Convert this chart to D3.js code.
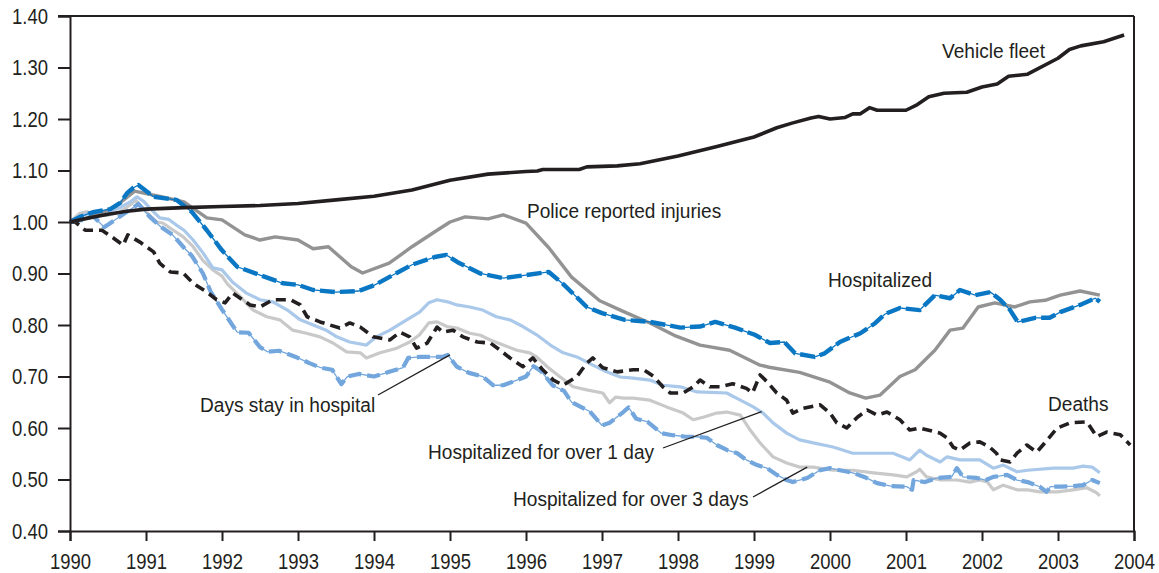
<!DOCTYPE html>
<html lang='en'>
    <head>
        <meta charset="utf-8">
        <title>Road injury indices 1990-2004</title>
        <script src='https://d3js.org/d3.v7.min.js'></script>
        <style>
            body { margin: 0; background: #fff; }
            text { font-family: "Liberation Sans", Arial, sans-serif; fill: #231f20; }
        </style>
    </head>
    <body>
        <script type='text/javascript'>
            var w = 1159;
            var h = 573;
            var margin = {top: 16, right: 25, bottom: 42, left: 70};

            var years = d3.range(1990, 2005);
            var yTicks = [0.4, 0.5, 0.6, 0.7, 0.8, 0.9, 1.0, 1.1, 1.2, 1.3, 1.4];

            // [year, index] pairs
            var vehicleFleet = [[1990,1.0],[1990.25,1.008],[1990.5,1.015],[1990.75,1.021],[1991,1.025],[1991.5,1.028],[1992,1.03],[1992.5,1.032],[1993,1.036],[1993.5,1.043],[1994,1.05],[1994.5,1.062],[1995,1.081],[1995.5,1.093],[1996,1.098],[1996.15,1.099],[1996.22,1.102],[1996.7,1.102],[1996.8,1.107],[1997.2,1.109],[1997.5,1.113],[1998,1.128],[1998.5,1.146],[1999,1.165],[1999.3,1.183],[1999.5,1.192],[1999.75,1.202],[1999.85,1.205],[2000,1.2],[2000.2,1.203],[2000.3,1.21],[2000.4,1.21],[2000.52,1.222],[2000.62,1.217],[2001,1.217],[2001.15,1.228],[2001.3,1.243],[2001.5,1.25],[2001.8,1.252],[2002,1.262],[2002.2,1.268],[2002.35,1.283],[2002.6,1.287],[2003,1.318],[2003.15,1.335],[2003.3,1.342],[2003.6,1.35],[2003.87,1.363]];

            var policeInjuries = [[1990,1.0],[1990.3,1.01],[1990.6,1.03],[1990.85,1.06],[1991.2,1.049],[1991.5,1.039],[1991.8,1.008],[1992,1.004],[1992.3,0.975],[1992.5,0.965],[1992.7,0.971],[1993,0.965],[1993.2,0.948],[1993.4,0.952],[1993.7,0.913],[1993.85,0.901],[1994.2,0.92],[1994.5,0.952],[1994.8,0.981],[1995,1.0],[1995.2,1.01],[1995.5,1.006],[1995.7,1.014],[1996,0.998],[1996.3,0.95],[1996.6,0.893],[1996.97,0.847],[1997.3,0.825],[1997.63,0.804],[1997.95,0.78],[1998.29,0.761],[1998.68,0.751],[1999.08,0.722],[1999.2,0.718],[1999.6,0.708],[2000,0.689],[2000.26,0.668],[2000.47,0.658],[2000.66,0.664],[2000.92,0.7],[2001.12,0.713],[2001.38,0.751],[2001.58,0.79],[2001.75,0.794],[2001.95,0.835],[2002.17,0.843],[2002.43,0.835],[2002.63,0.845],[2002.83,0.848],[2003.03,0.858],[2003.29,0.866],[2003.55,0.858]];

            var hospitalized = [[1990,1.0],[1990.13,1.01],[1990.3,1.019],[1990.53,1.025],[1990.66,1.037],[1990.75,1.056],[1990.83,1.066],[1990.9,1.072],[1991.1,1.049],[1991.4,1.043],[1991.6,1.02],[1991.8,0.984],[1992,0.945],[1992.2,0.913],[1992.5,0.897],[1992.8,0.881],[1993,0.878],[1993.2,0.868],[1993.5,0.864],[1993.8,0.866],[1994,0.877],[1994.25,0.897],[1994.5,0.917],[1994.8,0.932],[1994.95,0.936],[1995.1,0.922],[1995.4,0.9],[1995.7,0.891],[1996,0.897],[1996.3,0.903],[1996.5,0.878],[1996.8,0.835],[1997,0.823],[1997.3,0.81],[1997.63,0.806],[1998.03,0.795],[1998.29,0.797],[1998.49,0.806],[1998.75,0.795],[1999.01,0.781],[1999.21,0.765],[1999.4,0.767],[1999.54,0.745],[1999.8,0.738],[1999.93,0.745],[2000.13,0.767],[2000.4,0.784],[2000.59,0.803],[2000.72,0.821],[2000.92,0.833],[2001.18,0.829],[2001.38,0.858],[2001.58,0.852],[2001.71,0.868],[2001.91,0.858],[2002.11,0.864],[2002.24,0.849],[2002.37,0.829],[2002.47,0.806],[2002.7,0.814],[2002.89,0.814],[2003.03,0.825],[2003.29,0.839],[2003.49,0.852],[2003.55,0.845]];

            var deaths = [[1990,1.0],[1990.07,1.0],[1990.2,0.984],[1990.42,0.984],[1990.57,0.969],[1990.7,0.955],[1990.76,0.975],[1990.92,0.961],[1991.1,0.942],[1991.18,0.92],[1991.32,0.903],[1991.49,0.901],[1991.62,0.881],[1991.8,0.864],[1991.93,0.849],[1992.04,0.843],[1992.14,0.862],[1992.24,0.852],[1992.37,0.839],[1992.5,0.835],[1992.67,0.849],[1992.9,0.849],[1993.03,0.839],[1993.12,0.816],[1993.29,0.806],[1993.42,0.8],[1993.55,0.794],[1993.68,0.804],[1993.82,0.796],[1993.99,0.777],[1994.21,0.771],[1994.34,0.786],[1994.47,0.777],[1994.56,0.755],[1994.7,0.765],[1994.83,0.796],[1994.91,0.786],[1995.04,0.79],[1995.17,0.777],[1995.36,0.767],[1995.53,0.765],[1995.66,0.751],[1995.79,0.736],[1995.96,0.719],[1996.09,0.736],[1996.22,0.713],[1996.36,0.693],[1996.49,0.683],[1996.67,0.7],[1996.8,0.726],[1996.88,0.736],[1997.01,0.717],[1997.2,0.709],[1997.41,0.713],[1997.55,0.713],[1997.68,0.7],[1997.8,0.68],[1997.9,0.668],[1998.07,0.668],[1998.2,0.68],[1998.29,0.693],[1998.42,0.68],[1998.55,0.68],[1998.72,0.686],[1998.9,0.677],[1998.98,0.668],[1999.08,0.703],[1999.17,0.69],[1999.3,0.668],[1999.43,0.654],[1999.51,0.629],[1999.64,0.638],[1999.87,0.645],[2000,0.629],[2000.09,0.61],[2000.22,0.6],[2000.36,0.621],[2000.49,0.635],[2000.62,0.625],[2000.75,0.631],[2000.92,0.616],[2001.05,0.596],[2001.18,0.6],[2001.45,0.59],[2001.54,0.581],[2001.62,0.563],[2001.71,0.557],[2001.84,0.571],[2001.97,0.573],[2002.1,0.563],[2002.19,0.551],[2002.24,0.538],[2002.37,0.534],[2002.46,0.551],[2002.59,0.567],[2002.72,0.553],[2002.86,0.577],[2002.99,0.6],[2003.16,0.61],[2003.38,0.612],[2003.51,0.583],[2003.64,0.592],[2003.82,0.587],[2003.95,0.567]];

            var daysInHospital = [[1990,1.0],[1990.2,1.005],[1990.3,1.012],[1990.45,0.99],[1990.6,1.005],[1990.75,1.02],[1990.9,1.035],[1991.05,1.01],[1991.2,0.99],[1991.35,0.975],[1991.5,0.95],[1991.6,0.935],[1991.75,0.9],[1991.85,0.865],[1992,0.83],[1992.2,0.786],[1992.35,0.785],[1992.5,0.757],[1992.6,0.748],[1992.75,0.75],[1992.97,0.738],[1993.15,0.726],[1993.3,0.717],[1993.45,0.713],[1993.57,0.685],[1993.65,0.7],[1993.8,0.705],[1994,0.7],[1994.2,0.709],[1994.38,0.717],[1994.45,0.736],[1994.6,0.738],[1994.9,0.738],[1994.97,0.742],[1995.09,0.719],[1995.25,0.707],[1995.43,0.7],[1995.57,0.683],[1995.7,0.683],[1995.88,0.693],[1996,0.7],[1996.1,0.72],[1996.2,0.71],[1996.35,0.683],[1996.5,0.672],[1996.6,0.65],[1996.84,0.632],[1997,0.605],[1997.1,0.61],[1997.28,0.631],[1997.35,0.64],[1997.45,0.618],[1997.6,0.612],[1997.78,0.59],[1997.93,0.586],[1998.1,0.583],[1998.25,0.583],[1998.38,0.581],[1998.51,0.567],[1998.65,0.557],[1998.78,0.551],[1998.9,0.538],[1999.04,0.528],[1999.17,0.522],[1999.3,0.509],[1999.43,0.499],[1999.51,0.495],[1999.7,0.503],[1999.87,0.518],[2000,0.522],[2000.13,0.518],[2000.3,0.513],[2000.45,0.505],[2000.62,0.493],[2000.8,0.487],[2001.01,0.486],[2001.08,0.48],[2001.1,0.499],[2001.25,0.495],[2001.41,0.503],[2001.6,0.505],[2001.67,0.522],[2001.75,0.505],[2001.93,0.503],[2002.05,0.499],[2002.15,0.505],[2002.33,0.509],[2002.46,0.499],[2002.6,0.495],[2002.76,0.486],[2002.85,0.476],[2002.9,0.486],[2003.03,0.486],[2003.2,0.487],[2003.33,0.489],[2003.45,0.499],[2003.55,0.493]];

            var over1Day = [[1990,1.0],[1990.17,1.013],[1990.3,1.019],[1990.5,1.02],[1990.65,1.027],[1990.79,1.039],[1990.88,1.049],[1990.97,1.04],[1991.05,1.027],[1991.18,1.008],[1991.3,1.005],[1991.4,0.994],[1991.5,0.984],[1991.62,0.965],[1991.75,0.94],[1991.88,0.911],[1992,0.907],[1992.14,0.883],[1992.32,0.862],[1992.5,0.849],[1992.67,0.845],[1992.86,0.829],[1993.03,0.81],[1993.2,0.8],[1993.37,0.79],[1993.51,0.777],[1993.68,0.767],[1993.9,0.761],[1994.03,0.777],[1994.21,0.79],[1994.43,0.81],[1994.6,0.825],[1994.72,0.843],[1994.83,0.849],[1994.97,0.845],[1995.09,0.839],[1995.26,0.835],[1995.43,0.829],[1995.61,0.816],[1995.79,0.81],[1995.96,0.797],[1996.14,0.781],[1996.32,0.761],[1996.49,0.746],[1996.67,0.738],[1996.88,0.722],[1997.06,0.709],[1997.24,0.699],[1997.41,0.697],[1997.63,0.693],[1997.8,0.683],[1998.03,0.68],[1998.25,0.67],[1998.64,0.668],[1998.82,0.654],[1998.99,0.641],[1999.12,0.629],[1999.25,0.61],[1999.43,0.59],[1999.6,0.577],[1999.78,0.571],[2000.04,0.563],[2000.3,0.551],[2000.57,0.551],[2000.83,0.551],[2001.05,0.538],[2001.18,0.557],[2001.27,0.547],[2001.45,0.534],[2001.54,0.544],[2001.71,0.538],[2001.97,0.538],[2002.15,0.522],[2002.28,0.528],[2002.46,0.515],[2002.6,0.518],[2002.94,0.522],[2003.2,0.522],[2003.33,0.526],[2003.45,0.524],[2003.55,0.513]];

            var over3Days = [[1990,1.0],[1990.13,1.017],[1990.22,1.02],[1990.35,1.013],[1990.5,1.013],[1990.65,1.019],[1990.79,1.033],[1990.86,1.043],[1990.96,1.027],[1991.05,1.013],[1991.14,1.0],[1991.22,0.998],[1991.36,0.984],[1991.49,0.971],[1991.62,0.952],[1991.75,0.925],[1991.88,0.907],[1992,0.895],[1992.07,0.88],[1992.24,0.855],[1992.41,0.829],[1992.59,0.816],[1992.76,0.81],[1992.93,0.79],[1993.11,0.784],[1993.29,0.777],[1993.46,0.765],[1993.64,0.748],[1993.82,0.746],[1993.9,0.736],[1994.08,0.746],[1994.3,0.755],[1994.47,0.767],[1994.6,0.781],[1994.72,0.804],[1994.83,0.806],[1994.96,0.797],[1995.09,0.794],[1995.26,0.784],[1995.4,0.78],[1995.53,0.771],[1995.7,0.761],[1995.88,0.751],[1996.05,0.746],[1996.14,0.738],[1996.28,0.719],[1996.45,0.699],[1996.62,0.68],[1996.8,0.674],[1997.01,0.668],[1997.1,0.649],[1997.18,0.66],[1997.28,0.658],[1997.41,0.658],[1997.63,0.654],[1997.85,0.641],[1998.07,0.629],[1998.2,0.616],[1998.33,0.621],[1998.51,0.629],[1998.64,0.631],[1998.82,0.625],[1998.95,0.596],[1999.08,0.571],[1999.25,0.544],[1999.43,0.532],[1999.6,0.524],[1999.78,0.524],[2000.04,0.518],[2000.3,0.518],[2000.57,0.513],[2000.83,0.509],[2001.01,0.505],[2001.14,0.515],[2001.18,0.52],[2001.27,0.505],[2001.45,0.499],[2001.67,0.499],[2001.84,0.495],[2001.97,0.499],[2002.07,0.495],[2002.15,0.48],[2002.28,0.489],[2002.46,0.48],[2002.6,0.48],[2002.76,0.476],[2002.99,0.476],[2003.2,0.48],[2003.38,0.484],[2003.51,0.474],[2003.55,0.468]];

            var xScale = d3.scaleLinear()
                .domain([1990, 2004])
                .range([margin.left, w - margin.right]);

            var yScale = d3.scaleLinear()
                .domain([0.4, 1.4])
                .range([h - margin.bottom, margin.top]);

            var svg = d3.select('body')
                        .append('svg')
                        .attr('width', w)
                        .attr('height', h);

            var line = d3.line()
                .x(function(d){ return xScale(d[0]); })
                .y(function(d){ return yScale(d[1]); });

            // series in drawing order, bottom first
            // thin: width of a thin solid under-line (gives the linked dash look)
            var series = [
                {data: over3Days,      color: '#c9c9c9', width: 3.2, dash: null},
                {data: over1Day,       color: '#a9c8ea', width: 3.2, dash: null},
                {data: daysInHospital, color: '#72a6dc', width: 4.2, dash: '13,6', thin: 1.3},
                {data: deaths,         color: '#231f20', width: 3.6, dash: '10,6'},
                {data: policeInjuries, color: '#939393', width: 3.4, dash: null},
                {data: hospitalized,   color: '#0a77c4', width: 4.4, dash: '15,5', thin: 1.3},
                {data: vehicleFleet,   color: '#231f20', width: 3.6, dash: null}
            ];

            series.forEach(function(s){
                if (s.thin) {
                    svg.append('path')
                        .datum(s.data)
                        .attr('d', line)
                        .attr('fill', 'none')
                        .attr('stroke', s.color)
                        .attr('stroke-width', s.thin);
                }
                svg.append('path')
                    .datum(s.data)
                    .attr('d', line)
                    .attr('fill', 'none')
                    .attr('stroke', s.color)
                    .attr('stroke-width', s.width)
                    .attr('stroke-linejoin', 'round')
                    .attr('stroke-dasharray', s.dash);
            });

            //axes
            var tickK = 0.84;   // horizontal squeeze: the original uses a condensed face
            var yAxis = d3.axisLeft(yScale)
                .tickValues(yTicks)
                .tickFormat(d3.format('.2f'))
                .tickSize(12)
                .tickPadding(10);

            var xAxis = d3.axisBottom(xScale)
                .tickValues(years)
                .tickFormat(d3.format('d'))
                .tickSize(10)
                .tickPadding(12);

            var gy = svg.append('g')
                .attr('transform', 'translate(' + margin.left + ',0)')
                .call(yAxis);

            var gx = svg.append('g')
                .attr('transform', 'translate(0,' + (h - margin.bottom) + ')')
                .call(xAxis);

            [gx, gy].forEach(function(g){
                g.select('.domain').attr('stroke', '#231f20').attr('stroke-width', 2);
                g.selectAll('.tick line').attr('stroke', '#231f20').attr('stroke-width', 2);
                g.selectAll('.tick text')
                    .attr('font-size', '22px')
                    .attr('font-family', null)
                    .attr('fill', '#231f20')
                    .attr('transform', 'scale(' + tickK + ',1)');
            });
            gy.selectAll('.tick text').attr('x', -22 / tickK);

            // top and right frame
            svg.append('line')
                .attr('x1', margin.left - 12).attr('x2', xScale(2004))
                .attr('y1', yScale(1.4)).attr('y2', yScale(1.4))
                .attr('stroke', '#231f20').attr('stroke-width', 2);
            svg.append('line')
                .attr('x1', xScale(2004)).attr('x2', xScale(2004))
                .attr('y1', yScale(1.4)).attr('y2', yScale(0.4))
                .attr('stroke', '#231f20').attr('stroke-width', 2);

            //labels
            var labelK = 0.91;
            var labels = [
                {text: 'Vehicle fleet', x: 942, y: 58},
                {text: 'Police reported injuries', x: 527, y: 218},
                {text: 'Hospitalized', x: 828, y: 287},
                {text: 'Deaths', x: 1048, y: 411},
                {text: 'Days stay in hospital', x: 200, y: 412},
                {text: 'Hospitalized for over 1 day', x: 428, y: 459},
                {text: 'Hospitalized for over 3 days', x: 513, y: 506}
            ];

            svg.selectAll('text.label')
                .data(labels)
                .enter()
                .append('text')
                .attr('class', 'label')
                .attr('transform', function(d){
                    return 'translate(' + d.x + ',' + d.y + ') scale(' + labelK + ',1)';
                })
                .attr('font-size', '21px')
                .text(function(d){ return d.text; });

            // leader lines: label end -> point on its series
            var leaders = [
                {x1: 378, y1: 395, at: [1995, 0.742]},
                {x1: 663, y1: 448, at: [1999.1, 0.632]},
                {x1: 753, y1: 497, at: [1999.7, 0.524]}
            ];

            svg.selectAll('line.leader')
                .data(leaders)
                .enter()
                .append('line')
                .attr('class', 'leader')
                .attr('x1', function(d){ return d.x1; })
                .attr('y1', function(d){ return d.y1; })
                .attr('x2', function(d){ return xScale(d.at[0]); })
                .attr('y2', function(d){ return yScale(d.at[1]); })
                .attr('stroke', '#231f20')
                .attr('stroke-width', 1.3);
        </script>
    </body>
</html>
